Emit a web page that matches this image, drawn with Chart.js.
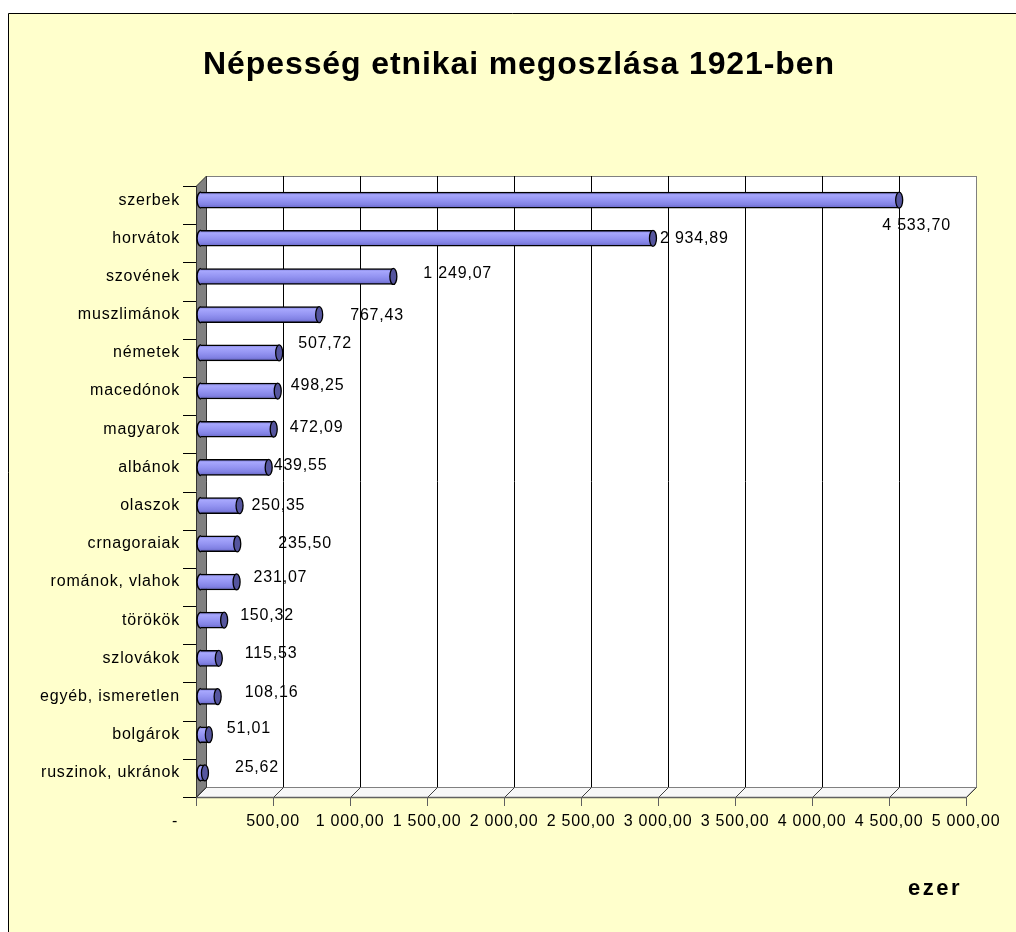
<!DOCTYPE html>
<html><head><meta charset="utf-8">
<script src="https://cdn.jsdelivr.net/npm/chart.js@4.4.1/dist/chart.umd.min.js"></script>
<style>html,body{margin:0;padding:0;background:#fff;}canvas{display:block;}</style>
</head><body>
<canvas id="c" width="1016" height="932"></canvas>
<script>
// ---- data ----
const TITLE = 'Népesség etnikai megoszlása 1921-ben';
const UNIT_LABEL = 'ezer';
const categories = ['szerbek','horvátok','szovének','muszlimánok','németek','macedónok','magyarok','albánok','olaszok','crnagoraiak','románok, vlahok','törökök','szlovákok','egyéb, ismeretlen','bolgárok','ruszinok, ukránok'];
const values = [4533.70, 2934.89, 1249.07, 767.43, 507.72, 498.25, 472.09, 439.55, 250.35, 235.50, 231.07, 150.32, 115.53, 108.16, 51.01, 25.62];
const xTickValues = [0, 500, 1000, 1500, 2000, 2500, 3000, 3500, 4000, 4500, 5000];

// label nudges (style: where Excel put each data label, relative to bar end)
const labelNudge = [[-18,25],[6,0],[29,-3],[30,1],[18,-9],[12,-5],[15,-2],[4,-2],[11,0],[40,0],[16,-4],[15,-5],[25,-5],[26,-4],[17,-6],[29,-5]];

const FONT = '"Liberation Sans", Arial, sans-serif';
const DEPTH = 5;

function fmtHu(v){
  const s = Number(v).toFixed(2);
  let [i, d] = s.split('.');
  i = i.replace(/\B(?=(\d{3})+(?!\d))/g, ' ');
  return i + ',' + d;
}

function makeGrad(ctx, yc, h){
  const g = ctx.createLinearGradient(0, yc - h, 0, yc + h);
  g.addColorStop(0, '#7b7bd8');
  g.addColorStop(0.18, '#a6a6fc');
  g.addColorStop(0.5, '#9494f2');
  g.addColorStop(0.78, '#8282e4');
  g.addColorStop(1, '#6464c2');
  return g;
}

const frame3d = {
  id: 'frame3d',
  beforeUpdate(chart){ chart.ctx.letterSpacing = '0.8px'; },
  beforeDraw(chart){
    const ctx = chart.ctx;
    ctx.letterSpacing = '0.8px';
    ctx.save();
    ctx.fillStyle = '#ffffff';
    ctx.fillRect(0, 0, chart.width, chart.height);
    ctx.fillStyle = '#FFFFCC';
    ctx.fillRect(8, 13, chart.width, chart.height);
    ctx.strokeStyle = '#000'; ctx.lineWidth = 1;
    ctx.beginPath(); ctx.moveTo(8.5, chart.height); ctx.lineTo(8.5, 13.5); ctx.lineTo(chart.width, 13.5); ctx.stroke();
    // title
    ctx.font = 'bold 32px ' + FONT;
    ctx.letterSpacing = '0.9px';
    ctx.fillStyle = '#000'; ctx.textAlign = 'center'; ctx.textBaseline = 'middle';
    ctx.fillText(TITLE, 519, 65);
    ctx.restore();
  },
  beforeDatasetsDraw(chart){
    const {ctx, chartArea: a, scales: {x, y}} = chart;
    const L = Math.round(a.left), R = Math.round(a.right), T = Math.round(a.top), B = Math.round(a.bottom);
    const fl = L - DEPTH, fr = R - DEPTH, ft = T + DEPTH, fb = B + DEPTH;
    const bl = L + DEPTH, br = R + DEPTH, bt = T - DEPTH, bb = B - DEPTH;
    ctx.save();
    // back wall
    ctx.fillStyle = '#ffffff';
    ctx.fillRect(bl, bt, br - bl, bb - bt);
    ctx.strokeStyle = '#808080'; ctx.lineWidth = 1;
    ctx.strokeRect(bl + 0.5, bt + 0.5, br - bl, bb - bt);
    // floor
    ctx.beginPath();
    ctx.moveTo(fl, fb + 0.5); ctx.lineTo(bl, bb + 0.5); ctx.lineTo(br, bb + 0.5); ctx.lineTo(fr, fb + 0.5); ctx.closePath();
    ctx.fillStyle = '#f7f7f7'; ctx.fill();
    ctx.strokeStyle = '#808080'; ctx.stroke();
    // gridlines on back wall + floor diagonals + front ticks
    xTickValues.forEach(v => {
      const xf = Math.round(x.getPixelForValue(v)) - DEPTH;
      const xb = xf + 2 * DEPTH;
      if (v > 0 && v < 5000) {
        ctx.strokeStyle = '#000';
        ctx.beginPath(); ctx.moveTo(xb + 0.5, bt); ctx.lineTo(xb + 0.5, bb); ctx.stroke();
      }
      ctx.strokeStyle = '#404040';
      ctx.beginPath(); ctx.moveTo(xf + 0.5, fb + 0.5); ctx.lineTo(xb + 0.5, bb + 0.5); ctx.stroke();
      ctx.strokeStyle = '#606060';
      ctx.beginPath(); ctx.moveTo(xf + 0.5, fb); ctx.lineTo(xf + 0.5, fb + 9); ctx.stroke();
    });
    // front axis line
    ctx.strokeStyle = '#606060'; ctx.lineWidth = 1.5;
    ctx.beginPath(); ctx.moveTo(fl, fb + 0.5); ctx.lineTo(fr, fb + 0.5); ctx.stroke();
    ctx.lineWidth = 1;
    // left wall
    ctx.beginPath();
    ctx.moveTo(fl + 0.5, ft); ctx.lineTo(bl + 0.5, bt); ctx.lineTo(bl + 0.5, bb); ctx.lineTo(fl + 0.5, fb); ctx.closePath();
    ctx.fillStyle = '#808080'; ctx.fill();
    ctx.strokeStyle = '#333'; ctx.stroke();
    // y tick marks at category boundaries (front plane)
    const n = categories.length, band = (B - T) / n;
    ctx.strokeStyle = '#000';
    for (let i = 0; i <= n; i++) {
      const yy = Math.round(T + i * band + DEPTH) + 0.5;
      ctx.beginPath(); ctx.moveTo(fl - 13, yy); ctx.lineTo(fl, yy); ctx.stroke();
    }
    ctx.restore();
  },
  afterDatasetsDraw(chart){
    const ctx = chart.ctx;
    const meta = chart.getDatasetMeta(0);
    ctx.save();
    meta.data.forEach((el, i) => {
      const p = el.getProps(['x', 'y', 'base', 'height'], true);
      const ry = p.height / 2;
      // left rounded end (front half of base ellipse)
      ctx.beginPath();
      ctx.ellipse(p.base, p.y, 4, ry, 0, Math.PI / 2, Math.PI * 1.5);
      ctx.closePath();
      ctx.fillStyle = makeGrad(ctx, p.y, ry);
      ctx.fill();
      ctx.beginPath();
      ctx.ellipse(p.base, p.y, 4, ry, 0, Math.PI / 2, Math.PI * 1.5);
      ctx.strokeStyle = '#000'; ctx.lineWidth = 1.5; ctx.stroke();
      // right end cap
      ctx.beginPath();
      ctx.ellipse(p.x, p.y, 3.5, ry, 0, 0, Math.PI * 2);
      ctx.fillStyle = '#55559e'; ctx.fill();
      ctx.strokeStyle = '#000'; ctx.lineWidth = 1.3; ctx.stroke();
    });
    ctx.font = '16px ' + FONT;
    ctx.letterSpacing = '0.8px';
    ctx.fillStyle = '#000';
    ctx.textAlign = 'left'; ctx.textBaseline = 'middle';
    meta.data.forEach((el, i) => {
      const p = el.getProps(['x', 'y'], true);
      const nd = labelNudge[i] || [10, 0];
      ctx.fillText(fmtHu(values[i]), p.x + 1 + nd[0], p.y + nd[1]);
    });
    ctx.restore();
  },
  afterDraw(chart){
    const ctx = chart.ctx;
    ctx.save();
    ctx.font = 'bold 22px ' + FONT;
    ctx.letterSpacing = '2.5px';
    ctx.fillStyle = '#000'; ctx.textAlign = 'right'; ctx.textBaseline = 'middle';
    ctx.fillText(UNIT_LABEL, 962, 889);
    ctx.restore();
  }
};

function barGradient(c){
  const chart = c.chart;
  if (!chart.chartArea) return '#9494f2';
  const yc = chart.scales.y.getPixelForValue(c.dataIndex);
  return makeGrad(chart.ctx, yc, 8);
}

new Chart(document.getElementById('c'), {
  type: 'bar',
  data: {
    labels: categories,
    datasets: [{
      data: values,
      backgroundColor: barGradient,
      borderColor: '#000',
      borderWidth: 1.5,
      borderSkipped: 'start',
      barThickness: 16
    }]
  },
  options: {
    indexAxis: 'y',
    responsive: false,
    animation: false,
    devicePixelRatio: 1,
    layout: {padding: {left: 0, right: 45, top: 181, bottom: 0}},
    plugins: {
      legend: {display: false},
      tooltip: {enabled: false},
      title: {display: false}
    },
    scales: {
      x: {
        type: 'linear', min: 0, max: 5000, position: 'bottom',
        afterFit(s){ s.height = 140; s.paddingLeft = 0; s.paddingRight = 0; },
        grid: {display: false, drawTicks: false},
        border: {display: false},
        afterBuildTicks(s){ s.ticks = xTickValues.map(v => ({value: v})); },
        ticks: {
          padding: 20, labelOffset: -5, color: '#000', autoSkip: false, maxRotation: 0,
          font: {family: FONT, size: 16},
          callback: v => v === 0 ? '-' + ' '.repeat(8) : fmtHu(v)
        }
      },
      y: {
        afterFit(s){ s.width = 201; s.paddingTop = 0; s.paddingBottom = 0; },
        grid: {display: false, drawTicks: false},
        border: {display: false},
        ticks: {padding: 21, color: '#000', autoSkip: false, font: {family: FONT, size: 16}}
      }
    }
  },
  plugins: [frame3d]
});
</script>
</body></html>
